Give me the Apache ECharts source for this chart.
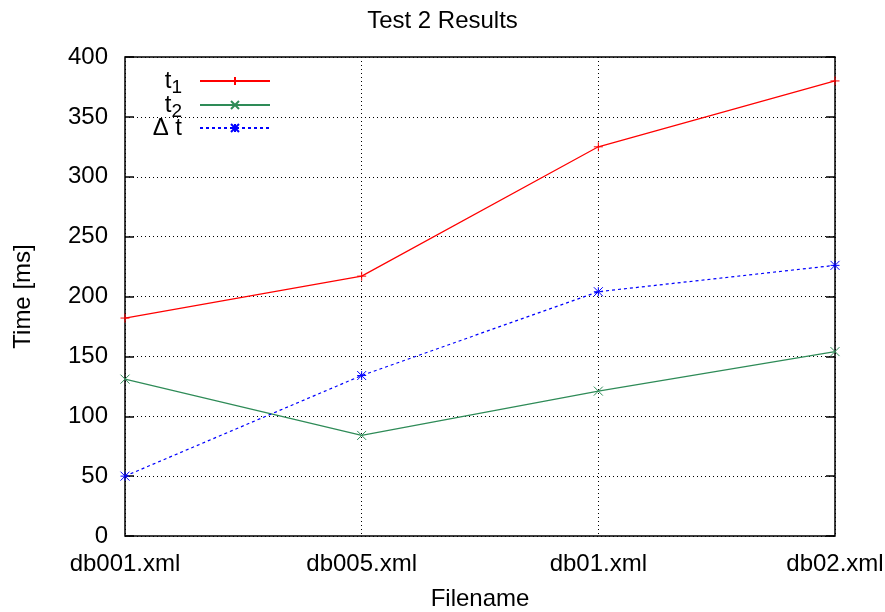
<!DOCTYPE html>
<html>
<head>
<meta charset="utf-8">
<script src="https://cdn.jsdelivr.net/npm/echarts@6/dist/echarts.min.js"></script>
<style>
  html, body { margin: 0; padding: 0; background: #fff; }
  #chart { width: 885px; height: 612px; }
</style>
</head>
<body>
<div id="chart"></div>
<script>
// data
var files = ['db001.xml', 'db005.xml', 'db01.xml', 'db02.xml'];
var t1 = [182, 217, 325, 380];
var t2 = [131, 84, 121, 154];
var dt = [50, 134, 204, 226];
var seriesNames = ['t1', 't2', 'Δ t'];

var font = 'Liberation Sans, Arial, Helvetica, sans-serif';
var plusPath = 'path://M0,5L10,5M5,0L5,10';
var crossPath = 'path://M0,0L10,10M10,0L0,10';
var starPath = 'path://M0,5L10,5M5,0L5,10M0,0L10,10M10,0L0,10';
var colors = ['#ff0000', '#2e8b57', '#0000ff'];

function mark(color) {
  return { color: 'rgba(0,0,0,0)', borderColor: color, borderWidth: 1 };
}

// one legend per series so rows can sit 25px apart like gnuplot's key
function key(i, top) {
  return {
    orient: 'vertical',
    right: 609,
    top: top,
    align: 'right',
    itemWidth: 70,
    itemHeight: 10,
    data: [seriesNames[i]],
    formatter: function (name) {
      if (name === 't1') return 't{sub|1}';
      if (name === 't2') return 't{sub|2}';
      return name;
    },
    textStyle: {
      fontFamily: font, fontSize: 24, color: '#000',
      padding: [0, 13, 0, 0],
      rich: { sub: { fontFamily: font, fontSize: 19, padding: [14, 0, 0, 0] } }
    }
  };
}

var chart = echarts.init(document.getElementById('chart'));
var option = {
  animation: false,
  title: {
    text: 'Test 2 Results',
    left: 'center',
    top: 4,
    textStyle: { fontFamily: font, fontSize: 24, fontWeight: 'normal', color: '#000' }
  },
  grid: {
    left: 125, right: 50, top: 57, bottom: 76,
    outerBoundsMode: 'none',
    show: true, borderColor: '#000', borderWidth: 1.5
  },
  legend: [key(0, 64), key(1, 88), key(2, 111)],
  xAxis: {
    type: 'category',
    data: files,
    boundaryGap: false,
    name: 'Filename',
    nameLocation: 'middle',
    nameGap: 51,
    nameTextStyle: { fontFamily: font, fontSize: 24, color: '#000' },
    axisLine: { show: false },
    axisTick: { show: false },
    axisLabel: { fontFamily: font, fontSize: 24, color: '#000', margin: 16 },
    splitLine: { show: true, lineStyle: { color: '#000', type: [1, 3], width: 1 } }
  },
  yAxis: [{
    type: 'value',
    min: 0, max: 400, interval: 50,
    name: 'Time [ms]',
    nameLocation: 'middle',
    nameGap: 90,
    nameTextStyle: { fontFamily: font, fontSize: 24, color: '#000' },
    axisLine: { show: false },
    axisTick: { show: true, inside: true, length: 9, lineStyle: { color: '#000', width: 1.5 } },
    axisLabel: { fontFamily: font, fontSize: 24, color: '#000', margin: 17 },
    splitLine: { show: true, lineStyle: { color: '#000', type: [1, 3], width: 1 } }
  }, {
    type: 'value',
    position: 'right',
    min: 0, max: 400, interval: 50,
    axisLine: { show: false },
    axisTick: { show: true, inside: true, length: 9, lineStyle: { color: '#000', width: 1.5 } },
    axisLabel: { show: false },
    splitLine: { show: false }
  }],
  series: [{
    name: 't1',
    type: 'line',
    data: t1,
    symbol: plusPath,
    symbolSize: 9,
    lineStyle: { color: colors[0], width: 1.2 },
    itemStyle: mark(colors[0]),
    color: colors[0]
  }, {
    name: 't2',
    type: 'line',
    data: t2,
    symbol: crossPath,
    symbolSize: 9,
    lineStyle: { color: colors[1], width: 1.2 },
    itemStyle: mark(colors[1]),
    color: colors[1]
  }, {
    name: 'Δ t',
    type: 'line',
    data: dt,
    symbol: starPath,
    symbolSize: 9,
    lineStyle: { color: colors[2], width: 1.2, type: [3, 3] },
    itemStyle: mark(colors[2]),
    color: colors[2]
  }]
};
chart.setOption(option);
</script>
</body>
</html>
